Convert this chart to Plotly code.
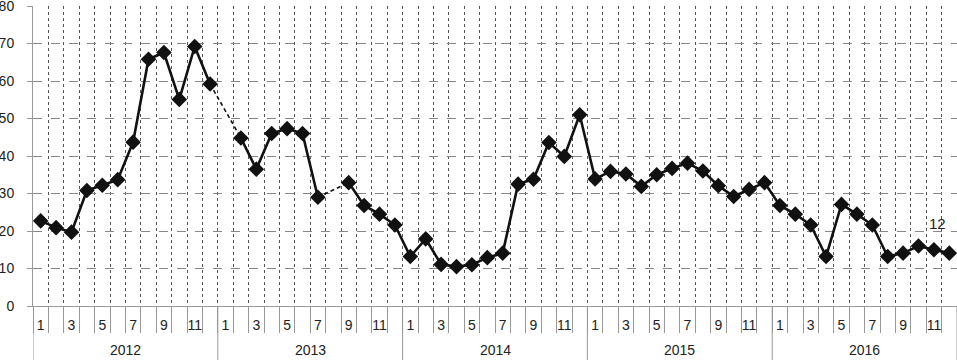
import plotly.graph_objects as go

years = ["2012", "2013", "2014", "2015", "2016"]
months = [1, 2, 3, 4, 5, 6, 7, 8, 9, 10, 11, 12]
values_2012 = [22.7, 20.9, 19.7, 30.8, 32.2, 33.7, 43.7, 65.8, 67.6, 55.1, 69.2, 59.2]
values_2013 = [None, 44.8, 36.5, 46.0, 47.3, 46.0, 29.0, None, 32.9, 26.8, 24.5, 21.6]
values_2014 = [13.2, 17.9, 11.1, 10.5, 11.0, 12.9, 14.1, 32.5, 33.8, 43.6, 39.9, 51.0]
values_2015 = [33.9, 35.9, 35.2, 31.9, 35.0, 36.7, 38.1, 36.0, 32.1, 29.2, 31.1, 32.9]
values_2016 = [26.8, 24.5, 21.6, 13.2, 27.1, 24.5, 21.6, 13.2, 14.1, 16.0, 15.0, 14.1]
y_ticks = [0, 10, 20, 30, 40, 50, 60, 70, 80]
end_label = "12"
end_label_value = 22

series = [values_2012, values_2013, values_2014, values_2015, values_2016]
vals = [v for s in series for v in s]
xs = list(range(len(vals)))
month_of = [m for _ in years for m in months]

# dashed connectors across missing months
gx, gy = [], []
for i, v in enumerate(vals):
    if v is None:
        a = i - 1
        b = i + 1
        gx += [a, b, None]
        gy += [vals[a], vals[b], None]

font = "Liberation Sans, Arial, sans-serif"
fig = go.Figure()
fig.add_trace(go.Scatter(x=gx, y=gy, mode="lines",
                         line=dict(color="#111", width=1.6, dash="4px,3px"),
                         hoverinfo="skip", showlegend=False))
fig.add_trace(go.Scatter(x=xs, y=vals, mode="lines+markers",
                         line=dict(color="#111", width=2.6),
                         marker=dict(symbol="diamond", size=12, color="#111"),
                         connectgaps=False, showlegend=False))

tickvals = [i for i in xs if month_of[i] % 2 == 1]
ticktext = [str(month_of[i]) for i in tickvals]

fig.update_xaxes(range=[-0.5, len(vals) - 0.5], tickmode="array",
                 tickvals=tickvals, ticktext=ticktext, ticks="",
                 showgrid=False, zeroline=False, showline=True, automargin=False,
                 linecolor="#999", linewidth=1, ticklabelstandoff=6,
                 tickfont=dict(size=14, color="#222", family=font),
                 minor=dict(tickmode="linear", tick0=-0.5, dtick=1,
                            ticks="outside", ticklen=26, tickcolor="#999",
                            tickwidth=1, showgrid=True, gridcolor="#555",
                            griddash="dot", gridwidth=1))
fig.update_yaxes(range=[0, 80], tickvals=y_ticks, ticks="outside", ticklen=5,
                 tickcolor="#999", showgrid=True, gridcolor="#888",
                 griddash="dash", gridwidth=1, zeroline=False, showline=True,
                 linecolor="#999", linewidth=1, ticklabelstandoff=10,
                 automargin=False, ticklabeloverflow="allow",
                 tickfont=dict(size=14, color="#222", family=font))

# year group separators and labels
n = len(months)
for k, yr in enumerate(years):
    fig.add_shape(type="line", xref="x", yref="paper", x0=k * n - 0.5, x1=k * n - 0.5,
                  y0=0, y1=-0.18, line=dict(color="#999", width=1))
    fig.add_annotation(x=k * n + (n - 1) / 2, y=-0.147, xref="x", yref="paper",
                       text=yr, showarrow=False, yanchor="middle",
                       font=dict(size=14, color="#222", family=font))
fig.add_shape(type="line", xref="x", yref="paper", x0=len(vals) - 0.5, x1=len(vals) - 0.5,
              y0=0, y1=-0.18, line=dict(color="#999", width=1))

fig.add_annotation(x=len(vals) - 1.75, y=end_label_value, text=end_label, showarrow=False,
                   font=dict(size=15, color="#222", family=font))

fig.update_layout(width=957, height=360, margin=dict(l=33, r=0, t=6, b=54),
                  plot_bgcolor="white", paper_bgcolor="white",
                  font=dict(family=font))
fig.write_html("out.html", config={"displayModeBar": False},
               post_script="document.body.style.margin='0';document.body.style.overflow='hidden';")
